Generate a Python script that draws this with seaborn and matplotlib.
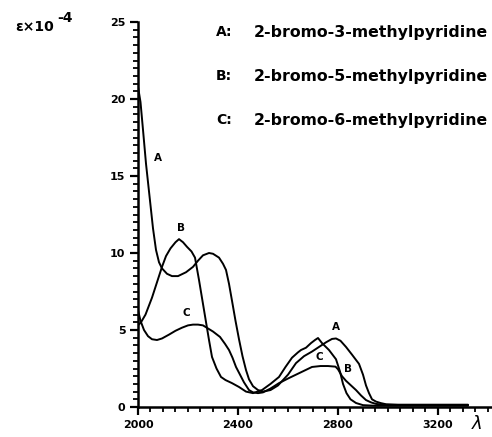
import numpy as np
import pandas as pd
import matplotlib
matplotlib.use("Agg")
import matplotlib.pyplot as plt
import seaborn as sns

# Curve A: 2-bromo-3-methylpyridine
a_x = [2000, 2010, 2020, 2032, 2048, 2060, 2072, 2084, 2096, 2116, 2136, 2160, 2192, 2220,
       2240, 2260, 2284, 2300, 2324, 2340, 2352, 2364, 2376, 2390, 2404, 2418, 2432, 2444,
       2460, 2480, 2500, 2530, 2560, 2600, 2632, 2664, 2696, 2724, 2752, 2776, 2792, 2810,
       2832, 2856, 2884, 2900, 2912, 2924, 2936, 2952, 2972, 2992, 3040, 3100, 3200, 3320]
a_y = [20.8, 19.8, 18.0, 15.8, 13.4, 11.6, 10.2, 9.4, 9.0, 8.65, 8.5, 8.5, 8.75, 9.1,
       9.5, 9.85, 10.0, 9.95, 9.7, 9.3, 8.9, 8.0, 6.9, 5.6, 4.4, 3.3, 2.4, 1.8,
       1.35, 1.1, 1.0, 1.1, 1.4, 2.1, 2.85, 3.3, 3.6, 3.9, 4.2, 4.42, 4.45, 4.3,
       3.9, 3.4, 2.8, 2.1, 1.4, 0.9, 0.5, 0.35, 0.25, 0.18, 0.15, 0.15, 0.15, 0.15]

# Curve B: 2-bromo-5-methylpyridine
b_x = [2000, 2012, 2030, 2056, 2076, 2096, 2112, 2130, 2150, 2164, 2180, 2196, 2214, 2228,
       2244, 2264, 2284, 2296, 2314, 2332, 2350, 2376, 2404, 2432, 2460, 2496, 2530, 2564,
       2590, 2616, 2640, 2652, 2672, 2692, 2708, 2720, 2736, 2764, 2792, 2808, 2820, 2834,
       2850, 2872, 2900, 2950, 3000, 3320]
b_y = [5.3, 5.5, 6.0, 7.1, 8.1, 9.1, 9.8, 10.3, 10.7, 10.9, 10.7, 10.4, 10.1, 9.7,
       8.25, 6.3, 4.35, 3.25, 2.5, 1.95, 1.75, 1.55, 1.3, 1.0, 0.9, 1.1, 1.5, 1.95,
       2.6, 3.2, 3.55, 3.7, 3.85, 4.15, 4.35, 4.48, 4.15, 3.7, 3.1, 2.3, 1.5, 0.9,
       0.5, 0.26, 0.12, 0.08, 0.08, 0.08]

# Curve C: 2-bromo-6-methylpyridine
c_x = [2000, 2010, 2024, 2040, 2056, 2076, 2096, 2124, 2150, 2176, 2200, 2220, 2240, 2260,
       2280, 2300, 2328, 2348, 2364, 2378, 2392, 2408, 2424, 2444, 2460, 2480, 2500, 2530,
       2564, 2600, 2632, 2664, 2696, 2730, 2760, 2790, 2800, 2816, 2832, 2852, 2872, 2892,
       2912, 2932, 2952, 3000, 3320]
c_y = [6.3, 5.6, 5.0, 4.6, 4.4, 4.35, 4.45, 4.7, 4.95, 5.15, 5.3, 5.35, 5.35, 5.3,
       5.1, 4.9, 4.55, 4.1, 3.7, 3.2, 2.6, 2.1, 1.6, 1.1, 0.95, 0.9, 0.95, 1.2,
       1.55, 1.85, 2.1, 2.35, 2.6, 2.66, 2.66, 2.62, 2.45, 2.0, 1.7, 1.4, 1.1, 0.75,
       0.45, 0.3, 0.2, 0.12, 0.12]

series_names = ["A", "B", "C"]
legend_labels = ["2-bromo-3-methylpyridine", "2-bromo-5-methylpyridine", "2-bromo-6-methylpyridine"]
x_ticks = [2000, 2400, 2800, 3200]
y_ticks = [0, 5, 10, 15, 20, 25]

df = pd.concat([
    pd.DataFrame({"wl": a_x, "eps": a_y, "curve": "A"}),
    pd.DataFrame({"wl": b_x, "eps": b_y, "curve": "B"}),
    pd.DataFrame({"wl": c_x, "eps": c_y, "curve": "C"}),
], ignore_index=True)

sns.set_style("white")
plt.rcParams["font.family"] = ["DejaVu Sans"]
plt.rcParams["text.color"] = "black"

W, H = 492, 437
fig = plt.figure(figsize=(W / 100, H / 100), dpi=100)
ax = fig.add_axes([138 / W, 30 / H, (W - 138) / W, 385 / H])

sns.lineplot(data=df, x="wl", y="eps", hue="curve", units="curve", estimator=None,
             palette={"A": "black", "B": "black", "C": "black"}, linewidth=1.4,
             legend=False, ax=ax, sort=False)

ax.set_xlim(2000, 2000 + (W - 138) * 4)
ax.set_ylim(0, 25)
ax.set_xlabel("")
ax.set_ylabel("")
for s in ["top", "right"]:
    ax.spines[s].set_visible(False)
for s in ["left", "bottom"]:
    ax.spines[s].set_linewidth(1.8)
    ax.spines[s].set_color("black")
ax.spines["left"].set_bounds(0, 25)

ax.set_xticks(x_ticks)
ax.set_yticks(y_ticks)
ax.set_xticks(np.arange(2000, 3401, 50), minor=True)
ax.set_yticks(np.arange(0, 25.01, 0.5), minor=True)
ax.tick_params(axis="both", which="both", bottom=True, left=True, top=False, right=False)
ax.tick_params(axis="both", which="major", direction="out", length=6, width=1.6,
               colors="black", labelsize=8, pad=3)
ax.tick_params(axis="both", which="minor", direction="out", length=3.5, width=1.3,
               colors="black")
ax.set_xticklabels([str(t) for t in x_ticks], fontweight="bold", color="black")
ax.set_yticklabels([str(t) for t in y_ticks], fontweight="bold", color="black")

# Curve labels
lab_kw = dict(fontsize=7.5, fontweight="bold", ha="center", va="center", color="black")
ax.text(2080, 16.2, "A", **lab_kw)
ax.text(2172, 11.6, "B", **lab_kw)
ax.text(2192, 6.1, "C", **lab_kw)
ax.text(2790, 5.2, "A", **lab_kw)
ax.text(2724, 3.25, "C", **lab_kw)
ax.text(2842, 2.45, "B", **lab_kw)

# Legend-like text block
for i, (nm, lb) in enumerate(zip(series_names, legend_labels)):
    yp = 1 - (32 + 44 * i) / H
    fig.text(216 / W, yp, nm + ":", fontsize=10, fontweight="bold", ha="left", va="center",
             color="black")
    fig.text(254 / W, yp, lb, fontsize=11.3, fontweight="bold", ha="left", va="center",
             color="black")

# Axis labels
fig.text(15 / W, 1 - 27 / H, "ε×10", fontsize=10, fontweight="bold", ha="left", va="center",
         color="black")
fig.text(57 / W, 1 - 18 / H, "-4", fontsize=10, fontweight="bold", ha="left", va="center",
         color="black")
fig.text(477 / W, 1 - 424 / H, "λ", fontsize=13, ha="center", va="center", style="italic",
         color="black")

fig.savefig("out.png", dpi=100)
